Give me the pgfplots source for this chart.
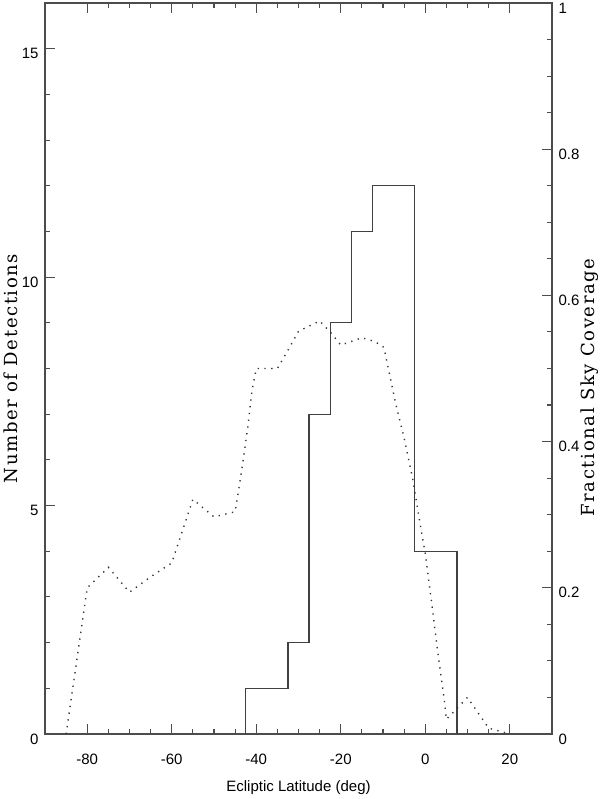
\documentclass[border=0pt]{standalone}
\usepackage{fontspec}
\setmainfont{Liberation Sans}
\newfontfamily\labelfont[LetterSpace=9]{DejaVu Serif}
\usepackage{pgfplots}
\pgfplotsset{compat=1.18}

\pgfplotsset{
  base/.style={
    scale only axis,
    width=507pt, height=731pt,
    at={(0,0)}, anchor=south west,
    xmin=-90, xmax=30,
    axis line style={black!70, line width=1.1pt},
    tick style={black!70, line width=1.1pt},
    major tick length=10pt, minor tick length=5pt,
    tick align=inside,
    tick label style={font=\fontsize{15}{15}\selectfont},
    /pgf/number format/assume math mode=true,
  },
}

\begin{document}
\begin{tikzpicture}
% detections (left axis)
\begin{axis}[base,
  ymin=0, ymax=16,
  xtick={-80,-60,-40,-20,0,20},
  minor x tick num=3,
  ytick={0,5,10,15},
  minor y tick num=4,
  ytick pos=left,
  xtick pos=both,
  xticklabel pos=bottom,
  xticklabel style={yshift=-16pt},
  yticklabel style={xshift=-3pt, yshift=-5pt},
  xlabel={Ecliptic Latitude (deg)},
  every axis x label/.style={at={(axis description cs:0.5,-0.0735)}, anchor=center, font=\fontsize{15}{15}\selectfont},
  ylabel={\labelfont Number of Detections},
  every axis y label/.style={at={(axis description cs:-0.068,0.5)}, rotate=90, anchor=center, font=\fontsize{18}{18}\selectfont},
]
\addplot[const plot, black!75, line width=1.3pt] coordinates {
  (-42.5,0) (-42.5,1) (-32.5,2) (-27.5,7) (-22.5,9) (-17.5,11)
  (-12.5,12) (-2.5,4) (7.5,0)
};
\end{axis}
% sky coverage (right axis)
\begin{axis}[base,
  ymin=0, ymax=1,
  axis x line=none,
  axis y line*=right,
  ytick={0,0.2,0.4,0.6,0.8,1},
  minor y tick num=3,
  ytick pos=right,
  yticklabel style={xshift=3pt, yshift=-5pt},
  ylabel={\labelfont Fractional Sky Coverage},
  every axis y label/.style={at={(axis description cs:1.074,0.474)}, rotate=90, anchor=center, font=\fontsize{18}{18}\selectfont},
]
\addplot[black!80, line width=1.4pt, dash pattern=on 1.3pt off 5.5pt] coordinates {
  (-85,0) (-80,0.20) (-75,0.228) (-70,0.194) (-65,0.215) (-60,0.234)
  (-55,0.321) (-50,0.297) (-45,0.304) (-44,0.34) (-43,0.378) (-42,0.42)
  (-41,0.47) (-40,0.5) (-35,0.5) (-32,0.53) (-30,0.551) (-25,0.565)
  (-22.5,0.55) (-20,0.532) (-15,0.542) (-12,0.537) (-10,0.530) (-9.5,0.521)
  (-7,0.452) (-5,0.405) (-3,0.35) (-1,0.28) (0,0.247) (1.5,0.18)
  (3,0.11) (4.5,0.047) (5,0.02) (10,0.05) (15,0.008) (20,0)
};
\end{axis}
\pgfresetboundingbox
\path[use as bounding box] (-45pt,-65pt) rectangle (555pt,734pt);
\end{tikzpicture}
\end{document}
